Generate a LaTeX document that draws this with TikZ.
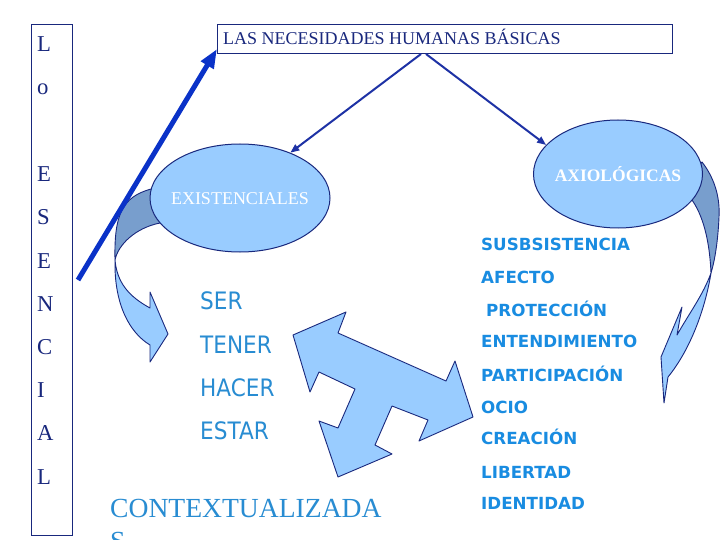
\documentclass[tikz,border=0pt]{standalone}
\usepackage{fontspec}
\setmainfont{Liberation Serif}
\newfontfamily\tah[FakeStretch=0.9]{DejaVu Sans}
\newfontfamily\verd{DejaVu Sans}
\usetikzlibrary{arrows.meta,shapes.geometric}
\definecolor{navy}{RGB}{25,40,125}
\definecolor{lightfill}{RGB}{153,204,255}
\definecolor{darkfill}{RGB}{120,158,205}
\definecolor{bigblue}{RGB}{10,50,200}
\definecolor{linkblue}{RGB}{30,50,165}
\definecolor{txtblue}{RGB}{40,140,210}
\definecolor{listblue}{RGB}{25,140,225}
\tikzset{
  letter/.style={anchor=base west, inner sep=0, text=navy, font=\fontsize{22.7}{27}\selectfont},
  verb/.style={anchor=base west, inner sep=0, text=txtblue, font=\tah\fontsize{24}{28}\selectfont},
  need/.style={anchor=base west, inner sep=0, text=listblue, font=\verd\bfseries\fontsize{16.7}{20}\selectfont},
  bubble/.style={ellipse, draw=navy, line width=1pt, fill=lightfill, inner sep=0},
  bubbletext/.style={anchor=base, inner sep=0, text=white, font=\fontsize{18}{21}\selectfont},
  shapeline/.style={draw=navy, line width=0.9pt, line join=round},
  link/.style={draw=linkblue, line width=2pt, -{Triangle[length=9pt,width=7pt]}},
}
\begin{document}
\begin{tikzpicture}[x=1pt,y=-1pt]
\useasboundingbox (0,0) rectangle (720,540);
\clip (0,0) rectangle (720,540);
\fill[white] (0,0) rectangle (720,540);

% left vertical box
\node[draw=navy, line width=1pt, anchor=north west, minimum width=41pt, minimum height=511pt, inner sep=0] (leftbox) at (31,24) {};
\node[letter] (l1) at (37,52) {L};
\node[letter] (l2) at (37,95) {o};
\node[letter] (l3) at (37,182) {E};
\node[letter] (l4) at (37,225) {S};
\node[letter] (l5) at (37,268) {E};
\node[letter] (l6) at (37,311) {N};
\node[letter] (l7) at (37,354) {C};
\node[letter] (l8) at (37,397) {I};
\node[letter] (l9) at (37,440) {A};
\node[letter] (l10) at (37,484) {L};

% title box
\node[draw=navy, line width=1pt, anchor=north west, minimum width=455pt, minimum height=29pt, inner sep=0] (title) at (217,24) {};
\node[anchor=base west, inner sep=0, text=navy, font=\fontsize{18}{21}\selectfont] (titletext) at (223,45) {LAS NECESIDADES HUMANAS BÁSICAS};

% left curved arrow (dark back and light front)
\path[shapeline, fill=darkfill] (151,189) .. controls (122,197) and (114,215) .. (115,260)
  .. controls (118,245) and (135,228) .. (160,223) -- (170,205) -- cycle;
\path[shapeline, fill=lightfill] (115,260) .. controls (114,305) and (130,333) .. (150,345)
  -- (150,362) -- (168,334) -- (150,292) -- (150,308)
  .. controls (128,296) and (117,282) .. (115,260) -- cycle;

% right curved arrow
\path[shapeline, fill=darkfill] (702,162) .. controls (716,180) and (720,200) .. (719,217)
  .. controls (718,240) and (715,260) .. (711,273)
  .. controls (710,250) and (706,220) .. (692,200) -- (680,190) -- cycle;
\path[shapeline, fill=lightfill] (711,273) .. controls (705,310) and (690,350) .. (668,377)
  -- (664,403) -- (661,357) -- (682,307) -- (677,335)
  .. controls (690,312) and (703,295) .. (711,273) -- cycle;

% ellipses
\node[bubble, minimum width=180pt, minimum height=108pt] (exi) at (240,198) {};
\node[bubbletext] (exitext) at (240,205) {EXISTENCIALES};
\node[bubble, minimum width=169pt, minimum height=108pt] (axi) at (618,174) {};
\node[bubbletext, font=\bfseries\fontsize{17.5}{21}\selectfont] (axitext) at (618,182) {AXIOLÓGICAS};

% links from the title
\draw[link] ([xshift=-24pt]title.south) -- (exi.42);
\draw[link] ([xshift=-19pt]title.south) -- (axi.158);

% big blue arrow
\coordinate (bigstart) at (78,280);
\draw[bigblue, line width=5pt, -{Triangle[length=19pt,width=14pt]}] (bigstart) -- ([yshift=5pt]title.south west);

% three-way arrow
\path[shapeline, fill=lightfill] (293,335) -- (346,312) -- (338,333) -- (446,381) -- (455,361)
  -- (473,417) -- (419,441) -- (428,420) -- (392,406) -- (375,445) -- (392,454)
  -- (338,477) -- (319,421) -- (338,428) -- (355,389) -- (319,372) -- (310,392) -- cycle;

% verbs
\node[verb] (ser) at (200,309) {SER};
\node[verb] (tener) at (200,353) {TENER};
\node[verb] (hacer) at (200,396) {HACER};
\node[verb] (estar) at (200,439) {ESTAR};

% contextualizada
\node[anchor=base west, inner sep=0, text=txtblue, font=\fontsize{27.6}{33}\selectfont] (ctx) at (110,517) {CONTEXTUALIZADA};
\node[anchor=base west, inner sep=0, text=txtblue, font=\fontsize{27.6}{33}\selectfont] (ctxs) at (110,550) {S};

% needs list
\node[need] (n1) at (481,251) {SUSBSISTENCIA};
\node[need] (n2) at (481,283) {AFECTO};
\node[need] (n3) at (486,316) {PROTECCIÓN};
\node[need] (n4) at (481,347) {ENTENDIMIENTO};
\node[need] (n5) at (481,381) {PARTICIPACIÓN};
\node[need] (n6) at (481,413) {OCIO};
\node[need] (n7) at (481,444) {CREACIÓN};
\node[need] (n8) at (481,478) {LIBERTAD};
\node[need] (n9) at (481,509) {IDENTIDAD};
\end{tikzpicture}
\end{document}
